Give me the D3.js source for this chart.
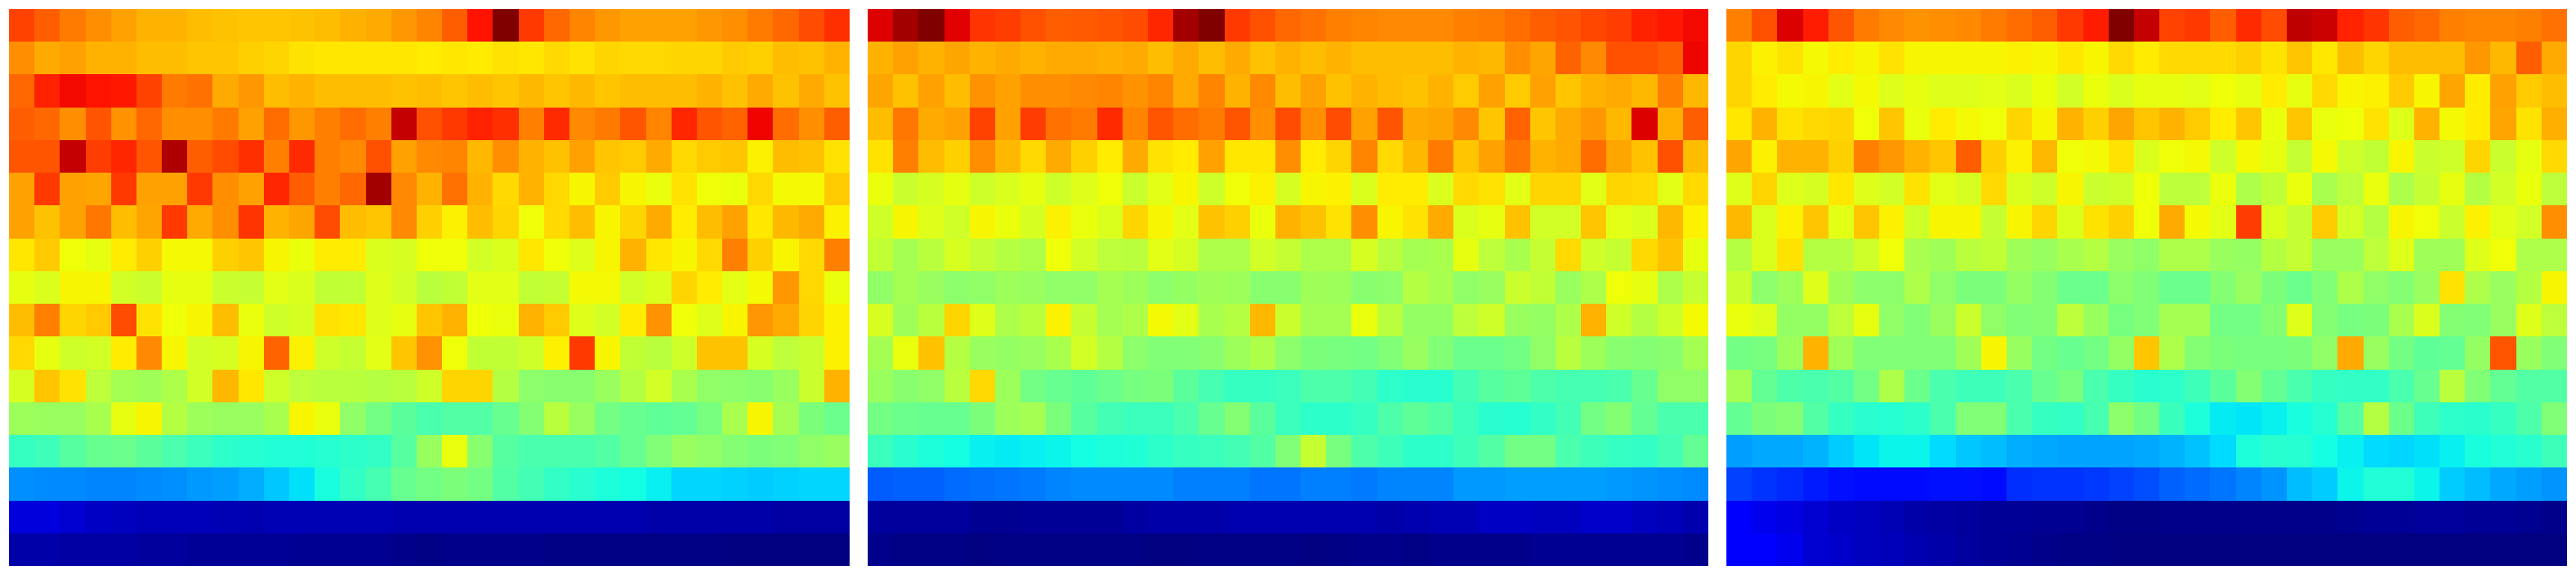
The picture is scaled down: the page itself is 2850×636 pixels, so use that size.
<!DOCTYPE html>
<html>
<head>
<meta charset="utf-8">
<style>html,body{margin:0;padding:0;background:#fff}svg{display:block}</style>
<script src="https://cdn.jsdelivr.net/npm/d3@7"></script>
</head>
<body>
<script>
// Cell values as a position (0-100) along the jet colour range.
const leftPanel = [
[84,81,78,76,74,72,72,71,70.5,70,70,70.5,71,72,73,75,77,81,89,100,85,80,77,75,74,74,74,75,76,78,80,83,86],
[76,73,74,72,72,71,71,70,70,69,68.5,67,66.5,66.5,66.5,66.5,66,66.5,66,67,66.5,68,67,68.5,68,68,68.5,68.5,69.5,69,71,70.5,72],
[80,87.5,90,89,88.5,84,78,79,73,75,71,72,71,71,71,70.5,71,70,71,70,71.5,70,71.5,70,71,71,71,72,70.5,73,70.5,73,70.5],
[81,80,76,82,75.5,80,76,76,78,74,79.5,75,77.5,79.5,77.5,94,82.5,85,87.5,86,77.5,86.5,76.5,78,82,77,87,82,80.5,90.5,79.5,76,81],
[82,82,94,84.5,87,82,96,81,83,86,77.5,86.5,77.5,76.5,82.5,74,76.5,77,71.5,76,72,70.5,74,70,69.5,73,68,69.5,70,65.5,71,70.5,67],
[74,85,74,73.5,85,74,74,85,76,74,87,81,77.5,80,97,76.5,72,79,72,68,72,68,65,69.5,65,63.5,67,64,63.5,68,64.5,64.5,69.5],
[74,70.5,74,78.5,71,73.5,85,73,76,85.5,72,73.5,83,71,70,76.5,69,65.5,71,68.5,64,68,71,65,68.5,73,66,71,74,66.5,71.5,73,65.5],
[66.5,69.5,64,63,66,69,64.5,64.5,69,70,65,63.5,66,66,61.5,61,64,64,60.5,61.5,66.5,64,62,65,72,66.5,65,68,77.5,69,65,68,77.5],
[63,61.5,65,65,60.5,59.5,63,63,59.5,59,62.5,61.5,58.5,58.5,62,60.5,57.5,58.5,62.5,62.5,58.5,59,64.5,64.5,60.5,61.5,68.5,66,62.5,64.5,75,68,63.5],
[71,77.5,68.5,69.5,83,67,64,65,71,63.5,60,61,67,66.5,62,63,70,72,64,63.5,72,69.5,62,60.5,66,75.5,64,62,65,75,73,68.5,65.5],
[68,63,60,60.5,66,76.5,65,60.5,61,65,80.5,65.5,60,59,62.5,70,75.5,64,58.5,58.5,60,65.5,85,65,58.5,57.5,60,70.5,70.5,61,58,59.5,65.5],
[61,70,67,58,55,54.5,56,60.5,71.5,66.5,60,58,57.5,57.5,57,57.5,60,68.5,68.5,57,52,51.5,51.5,53.5,57,60.5,55.5,52.5,52,51.5,53.5,59.5,72],
[54,53.5,53.5,55.5,63,65,57,54,53.5,53.5,55.5,65,63.5,52.5,49,46,44,45,45,47.5,51,57.5,53.5,49,47.5,46.5,47,49.5,55.5,65,55,50,48],
[41.5,42.5,45.5,47.5,48,46,44,42,40.5,39.5,39,39,39.5,40.5,41,45.5,53.5,63.5,51.5,45.5,44,44,44,45,47.5,50.5,53.5,52.5,51,50,50.5,52.5,53.5],
[26.5,26,26,25.5,25.5,26,26.5,27.5,28,29.5,32,34.5,38,41,43.5,47.5,49,50,49,45,43,41,40,38.5,37.5,36,33.5,33.5,33,32.5,33,33.5,33.5],
[8,8,7,6,5.5,5,5,5,4.5,4,4.5,4.5,4.5,4.5,4.5,4,4,4,4,4,4,4,4,4,4,3.5,3.5,3.5,3.5,3.5,3,3,3],
[3.5,3.5,3,3,3,2.5,2.5,2,2,2,2,1.5,1.5,1.5,1.5,1,0.5,1,1,1,1,0.5,0.5,0.5,0.5,0.5,0.5,0.5,0,0,0,0,0]
];
const middlePanel = [
[92,97,100,91.5,85.5,84.5,82.5,81,81.5,82,83,87,97,100,85,82.5,80,79,77.5,77,76.5,76.5,76.5,77.5,78,79.5,81,82,83.5,84.5,87.5,88.5,90],
[72,74,72,73.5,72,73,72,73,73,72.5,73,71,73,71,73,70.5,72,71,72,71,71,71,71,72,71.5,76,73.5,80.5,76.5,82.5,82.5,81,90.5],
[73.5,70.5,74,71,75.5,74,76,76,76.5,77,75.5,77,73,77,72,76.5,71,74,70.5,72,71,70.5,72,69.5,74,69.5,74,70,72,73,71.5,77.5,71.5],
[71,78.5,73,74,84,74,84.5,79,78,86.5,77,82,79.5,78,82,76,83,76,83,74,82,73,73.5,76.5,70,80.5,70,73,75,71.5,92,72.5,81],
[67,77.5,71,69,76,71.5,68,73,69,66,73,67,66,74,66.5,66.5,76,66,68.5,77,68,71.5,78,70,74,78.5,72,73,79.5,73.5,70.5,82.5,71],
[63.5,59.5,61,63,60,61.5,63,60,62,64,59.5,62.5,65,60,64,65.5,61,65,65.5,61.5,66,66,61.5,68,67,62.5,68.5,68.5,62.5,68.5,68,62.5,68],
[60,65,62,60,65,63.5,61,65.5,63.5,61.5,68.5,65,62.5,70.5,69,63.5,72,70.5,67,76,65,67,73,61.5,63,70.5,60.5,60.5,70,62.5,61.5,71.5,65.5],
[58.5,55,57.5,61,59,57,56,64,60.5,58,57.5,62.5,61,56,56,60.5,59,56,56,61,57.5,55,55.5,63,58,55.5,59,68,60,59,68,70.5,63],
[52.5,55,53.5,52,52.5,54,53.5,52.5,52.5,55,54,52,53,54.5,54,51.5,51.5,54.5,54,51.5,52,57,55.5,52.5,53.5,59.5,58.5,53.5,56,64,63,56,59],
[61,54.5,57.5,68.5,62,56,57.5,65.5,59,55,56,64.5,62.5,55.5,57,71.5,59.5,55,55,63.5,57.5,53,53,58,60,53.5,53,56,72,60,57,60,64.5],
[55,63.5,70.5,57,53.5,53,53.5,55.5,60.5,57,52,50.5,50.5,51.5,54,56,52,50,49.5,49,50.5,53.5,50.5,48,48,49,52.5,57.5,54,51.5,51,51.5,55],
[53.5,51.5,52.5,57.5,68,54,49,47.5,46.5,48,49.5,50,46,43.5,41.5,41.5,42,44.5,44.5,43,40.5,40,40,43,45.5,46.5,44.5,43.5,43.5,44,47.5,52.5,52.5],
[49,48,47.5,47.5,50,54,55,50,45.5,43,42,42,44,47.5,51,46,42,40.5,40.5,41.5,44.5,46.5,45,42,40,39.5,41,43,49,51,47,44,44],
[42,40,38.5,37.5,36,35.5,36,36.5,37.5,38.5,39,40.5,41.5,42,43,45,50.5,59,49.5,44.5,42.5,40.5,40.5,42.5,45,49,49,44,42.5,41.5,41,43,47],
[21.5,22,22,23,23.5,24,24.5,25.5,26,26,26,26,25,25,25,24,24,25,25,24.5,25.5,25.5,25.5,27.5,27.5,28,28,28,28,27.5,27,26.5,26],
[2.5,2.5,2.5,2.5,1.5,1.5,2,2,2,2,3,3.5,3.5,3.5,4,4,4,4,4,4,3.5,4,4.5,4.5,6,6,5.5,5.5,6.5,6.5,5.5,5,4],
[1,0.5,0.5,0.5,0,0.5,0.5,0.5,0.5,0.5,0.5,0,0,0.5,0.5,0.5,0.5,0,0.5,1,1,0.5,1,1,1,1,1.5,1.5,1.5,1.5,1.5,1.5,1]
];
const rightPanel = [
[77.5,82.5,92,88,82,78,76.5,75.5,76,76.5,78,79.5,81,85,88,100,94,84,85,81,86.5,83,94.5,93.5,87.5,85.5,81,80,77.5,77,77,77.5,79],
[68.5,65.5,67,64.5,66,65,67,65,65,65,65,65.5,65,66.5,65,68,66,68,68,68,69,67,70,66.5,71,68.5,71,71,71,75,71.5,81,73],
[68.5,66,64.5,65,62.5,64.5,62,63,62,62,62.5,61.5,63.5,60.5,63.5,61.5,63,63,62.5,64,63,66,63,68,65,65.5,69.5,65,73.5,66,74,69.5,71],
[66.5,72,67,68,68.5,64,70,63.5,66,64.5,64,68.5,65,72,69,73.5,70,72,69.5,66,70,63.5,70,63.5,64,67,62,72,64.5,66,73.5,67,72.5],
[73.5,65.5,72,72,69,77.5,75,72,70,81,69,65.5,71.5,64,64.5,67,61.5,64,64.5,60,64.5,63,59,64.5,60,58.5,65,59.5,60,68.5,59.5,63,68],
[62,68.5,62,61,66.5,62,60.5,67,62.5,61,68,61.5,60,65,59.5,60,64,58,58,63.5,56,58.5,63.5,55.5,58,63.5,56,59,63,57,60.5,63.5,58],
[71.5,61.5,65.5,70,62.5,70,65.5,60,65,65,59,65,68.5,61.5,67,69,64,73,64.5,62.5,84.5,61.5,59,69.5,60.5,57,65,64,59.5,65.5,62.5,60.5,76],
[57,61.5,67,57,57,60,64,55.5,54.5,57.5,58.5,54.5,53.5,55.5,57,53.5,52.5,56,56,53.5,53,57,59,53.5,53.5,58,62,54.5,54.5,62,64,56,56],
[59.5,52,54,62,54.5,52,52,56,52.5,50,50,53,51,48,48,52,50.5,48,48,51,53.5,50,48,50.5,56,52.5,51,53.5,67,56,53.5,57,65],
[63.5,62,53,53,58,63,52.5,50.5,53.5,59.5,52.5,50.5,51,58,53.5,49.5,50.5,55,55,49,49,51,62,51,49.5,50,55.5,61.5,51,50.5,53.5,62,58],
[49,49.5,54,72,54.5,50.5,50.5,50.5,50.5,54.5,65,53.5,49,47.5,49,53,70,56,51,50,49.5,49.5,50,52.5,73,53.5,49,46.5,47,53,82,53.5,50.5],
[55,47,44.5,44,45,49,56,48,44,42.5,42.5,44,47.5,49.5,44,41.5,40,40.5,42.5,46,51,47,44,41.5,41,41,44,47.5,57.5,50.5,47,45,45],
[47,50,51,45,41.5,40,39.5,40.5,44,50.5,50.5,44,41.5,41,43.5,52,49,42,38.5,35.5,35,36,38,39.5,45.5,57,48,42.5,40.5,40,41.5,44.5,50.5],
[28,29,29,30,32.5,35,36.5,36.5,34,32,31,29.5,29,28.5,28.5,28.5,29,30,31.5,34,38.5,40,39.5,37.5,36,34,33.5,34.5,36,38,39,40,42.5],
[19,17.5,16.5,15,14,13.5,13.5,13.5,14,14,13.5,17,17.5,17.5,18,19,20,22,23,24,25.5,27,31,32.5,36.5,39,39,36.5,32.5,31,29,28,27],
[12,9.5,8.5,7,6,5.5,4.5,3.5,3,2.5,2,2,1.5,1.5,1,0.5,0.5,1,1,1,1,1,1,1,1.5,2,2,2.5,2.5,2,2,1.5,1],
[12,12,9.5,7,6.5,5.5,5,4,3.5,2.5,2,1.5,1,0.5,0.5,0,0,0,0,0,0,0,0,0,0,0,0,0,0,0,0,0,0]
];
const panels = [leftPanel, middlePanel, rightPanel];
panels.forEach((p,i)=>p.forEach((r,j)=>{ if(r.length!==33) throw new Error(`panel ${i} row ${j}: ${r.length}`); }));

const W = 2850, H = 636;
const panelWidth = 930, panelLeft = [10, 960, 1910], plotTop = 10, plotBottom = 626;
const nCols = 33, nRows = 17;

// matplotlib "jet" segment tables
const red = d3.scaleLinear().domain([0,35,66,89,100]).range([0,0,255,255,127.5]);
const green = d3.scaleLinear().domain([0,12.5,37.5,64,91,100]).range([0,0,255,255,0,0]);
const blue = d3.scaleLinear().domain([0,11,34,65,100]).range([127.5,255,255,0,0]);
const jet = v => d3.rgb(red(v), green(v), blue(v)).formatHex();

const svg = d3.select("body").append("svg").attr("width", W).attr("height", H);
const y = d3.scaleLinear().domain([0, nRows]).range([plotTop, plotBottom]);

panels.forEach((panel, pi) => {
  const x = d3.scaleLinear().domain([0, nCols]).range([panelLeft[pi], panelLeft[pi] + panelWidth]);
  const cells = panel.flatMap((row, r) => row.map((v, c) => ({r, c, v})));
  svg.append("g").selectAll("rect").data(cells).join("rect")
    .attr("x", d => Math.round(x(d.c)))
    .attr("y", d => Math.round(y(d.r)))
    .attr("width", d => Math.round(x(d.c + 1)) - Math.round(x(d.c)))
    .attr("height", d => Math.round(y(d.r + 1)) - Math.round(y(d.r)))
    .attr("fill", d => jet(d.v))
    .attr("shape-rendering", "crispEdges");
});
</script>
</body>
</html>
